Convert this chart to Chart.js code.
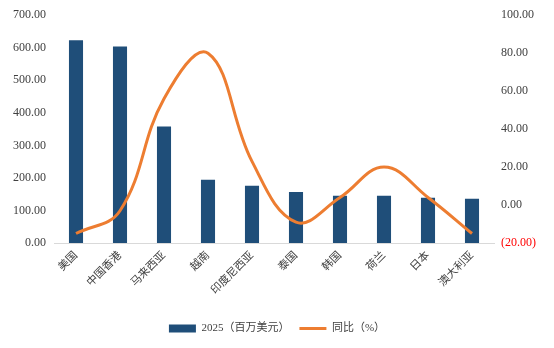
<!DOCTYPE html>
<html>
<head>
<meta charset="utf-8">
<script src="https://cdn.jsdelivr.net/npm/chart.js@4/dist/chart.umd.min.js"></script>
<style>
  html, body { margin: 0; padding: 0; background: #fff; }
  #wrap { width: 554px; height: 348px; }
</style>
</head>
<body>
<div id="wrap"><canvas id="tradeChart"></canvas></div>
<script>
// categories and series
const countries = ["美国", "中国香港", "马来西亚", "越南", "印度尼西亚", "泰国", "韩国", "荷兰", "日本", "澳大利亚"];
const amount2025 = [623, 604, 358, 194, 176, 157, 145, 145, 139, 136];
const yoyPct = [-15, -3, 56, 80, 23, -9, 4, 20, 4, -15];

const leftTicks = [0, 100, 200, 300, 400, 500, 600, 700];
const rightTicks = [-20, 0, 20, 40, 60, 80, 100];

const FONT = "'Liberation Serif', 'Noto Sans CJK SC', serif";

function fmt(v) {
    if (v < 0) return "(" + Math.abs(v).toFixed(2) + ")";
    return v.toFixed(2);
}

const ctx = document.getElementById("tradeChart").getContext("2d");

new Chart(ctx, {
    type: "bar",
    data: {
        labels: countries,
        datasets: [
            {
                label: "2025（百万美元）",
                data: amount2025,
                backgroundColor: "#1F4E79",
                borderWidth: 0,
                categoryPercentage: 0.8,
                barPercentage: 0.4,
                pointStyle: "rect",
                yAxisID: "y",
                order: 2
            },
            {
                type: "line",
                label: "同比（%）",
                data: yoyPct,
                borderColor: "#ED7D31",
                backgroundColor: "#ED7D31",
                borderWidth: 3,
                pointRadius: 0,
                pointStyle: "line",
                tension: 0.4,
                fill: false,
                yAxisID: "y1",
                order: 1
            }
        ]
    },
    options: {
        responsive: true,
        maintainAspectRatio: false,
        animation: false,
        layout: { padding: { top: 15, bottom: 4, left: 0, right: 0 } },
        plugins: {
            tooltip: { enabled: false },
            legend: {
                position: "bottom",
                labels: {
                    usePointStyle: true,
                    pointStyleWidth: 27,
                    boxHeight: 8,
                    padding: 10,
                    color: "#404040",
                    font: { family: FONT, size: 11 },
                    sort: (a, b) => a.datasetIndex - b.datasetIndex
                }
            }
        },
        scales: {
            x: {
                grid: { display: false, drawTicks: false },
                border: { display: true, color: "#D9D9D9", width: 1 },
                ticks: {
                    minRotation: 45,
                    maxRotation: 45,
                    padding: 6,
                    color: "#404040",
                    font: { family: FONT, size: 11 }
                },
                afterFit: (scale) => { scale.height = 70; }
            },
            y: {
                position: "left",
                min: 0,
                max: 700,
                grid: { display: false, drawTicks: false },
                border: { display: false },
                afterBuildTicks: (scale) => { scale.ticks = leftTicks.map(v => ({ value: v })); },
                ticks: {
                    padding: 8,
                    color: "#404040",
                    font: { family: FONT, size: 12 },
                    callback: (v) => fmt(v)
                },
                afterFit: (scale) => { scale.width = 54; }
            },
            y1: {
                position: "right",
                min: -20,
                max: 100,
                grid: { display: false, drawTicks: false },
                border: { display: false },
                afterBuildTicks: (scale) => { scale.ticks = rightTicks.map(v => ({ value: v })); },
                ticks: {
                    padding: 7,
                    color: (c) => (c.tick && c.tick.value < 0) ? "#FF0000" : "#404040",
                    font: { family: FONT, size: 12 },
                    callback: (v) => fmt(v)
                },
                afterFit: (scale) => { scale.width = 60; }
            }
        }
    }
});
</script>
</body>
</html>
